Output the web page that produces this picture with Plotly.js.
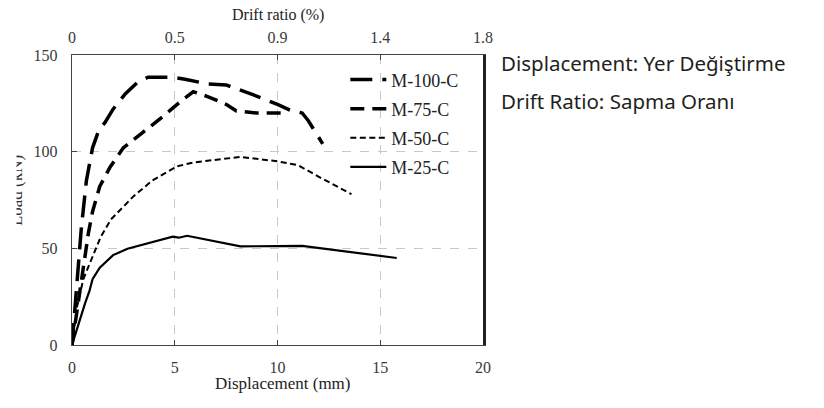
<!DOCTYPE html>
<html>
<head>
<meta charset="utf-8">
<script src="https://cdn.plot.ly/plotly-3.0.1.min.js"></script>
<style>html,body{margin:0;padding:0;background:#fff;}#chart{width:824px;height:408px;}</style>
</head>
<body>
<div id="chart"></div>
<script>
// Displacement (mm) / Load (kN)
const m100_x = [0, 0.15, 0.3, 0.45, 0.7, 1.0, 1.3, 1.6, 2.0, 2.6, 3.2, 3.7, 4.9, 5.5, 6.6, 7.5, 8.8, 10.0, 10.6, 11.2, 11.5, 12.2];
const m100_y = [0, 20, 40, 60, 85, 102, 111, 115, 122, 130, 136, 138.5, 138.5, 137.5, 135, 134.5, 129.5, 124.5, 121.5, 120, 116, 104];
const m75_x = [0, 0.2, 0.4, 0.6, 0.8, 1.0, 1.35, 1.85, 2.5, 3.45, 4.4, 5.4, 5.9, 6.6, 7.5, 8.0, 9.0, 10.5];
const m75_y = [0, 15, 30, 45, 58, 69, 82, 92, 102, 110, 118, 127, 131, 128.5, 124.5, 121, 120, 120];
const m50_x = [0, 0.25, 0.55, 1.0, 1.4, 1.9, 3.0, 3.9, 5.1, 5.9, 8.2, 10.0, 11.0, 12.1, 13.6];
const m50_y = [0, 20, 34, 46, 56, 65, 77, 85, 92.4, 94.4, 97.3, 95, 93, 86.5, 78];
const m25_x = [0, 0.2, 0.4, 0.65, 0.85, 1.0, 1.35, 2.0, 2.7, 4.9, 5.2, 5.6, 8.2, 11.2, 15.8];
const m25_y = [0, 7, 13, 22, 28, 34, 40, 46.5, 49.8, 56, 55.5, 56.5, 51, 51.3, 45];

const seriesNames = ['M-100-C', 'M-75-C', 'M-50-C', 'M-25-C'];
const dispTicks = [0, 5, 10, 15, 20];
const driftTickLabels = ['0', '0.5', '0.9', '1.4', '1.8'];
const loadTicks = [0, 50, 100, 150];

const serif = 'Liberation Serif';
const tickFont = {family: serif, size: 16, color: '#3a3a3a'};

const traces = [
  {x: m100_x, y: m100_y, name: seriesNames[0], legendgroup: 'a', mode: 'lines', line: {color: '#000', width: 3.5, dash: '22px,10px'}},
  {x: m75_x, y: m75_y, name: seriesNames[1], legendgroup: 'b', mode: 'lines', line: {color: '#000', width: 3.5, dash: '14px,8px'}},
  {x: m50_x, y: m50_y, name: seriesNames[2], legendgroup: 'c', mode: 'lines', line: {color: '#000', width: 2, dash: '6px,3.5px'}},
  {x: m25_x, y: m25_y, name: seriesNames[3], legendgroup: 'd', mode: 'lines', line: {color: '#000', width: 2.2}},
  {x: dispTicks, y: dispTicks.map(() => null), xaxis: 'x2', mode: 'lines', showlegend: false, hoverinfo: 'skip'},
  {x: [null], y: loadTicks, yaxis: 'y2', mode: 'lines', showlegend: false, hoverinfo: 'skip'}
];

const layout = {
  width: 824, height: 408,
  margin: {l: 72, r: 341, t: 55, b: 63},
  paper_bgcolor: '#fff', plot_bgcolor: '#fff',
  showlegend: true,
  legend: {
    x: 0.665, y: 0.978, xanchor: 'left', yanchor: 'top',
    bgcolor: 'rgba(0,0,0,0)', borderwidth: 0, itemwidth: 36,
    font: {family: serif, size: 18, color: '#222'},
    traceorder: 'grouped', tracegroupgap: 2.7
  },
  xaxis: {
    range: [0, 20], tickvals: dispTicks, ticktext: dispTicks.map(String),
    ticks: 'inside', ticklen: 5, tickcolor: '#444', ticklabelstandoff: 7,
    showline: true, linecolor: '#444', linewidth: 1.3,
    showgrid: true, gridcolor: '#c8c8c8', griddash: 'dash', gridwidth: 1,
    zeroline: false, tickfont: tickFont
  },
  xaxis2: {
    overlaying: 'x', side: 'top', anchor: 'y', range: [0, 20],
    tickvals: dispTicks, ticktext: driftTickLabels,
    ticks: 'inside', ticklen: 5, tickcolor: '#444', ticklabelstandoff: 4,
    showline: true, linecolor: '#444', linewidth: 1.3,
    showgrid: false, zeroline: false, tickfont: tickFont
  },
  yaxis: {
    range: [0, 150], tickvals: loadTicks,
    ticks: 'inside', ticklen: 5, tickcolor: '#444', ticklabelstandoff: 10,
    showline: true, linecolor: '#444', linewidth: 1.3,
    showgrid: true, gridcolor: '#c8c8c8', griddash: 'dash', gridwidth: 1,
    zeroline: false, tickfont: tickFont
  },
  yaxis2: {
    overlaying: 'y', side: 'right', anchor: 'x', range: [0, 150], tickvals: loadTicks,
    ticks: '', showticklabels: false,
    showline: true, linecolor: '#222', linewidth: 2.5,
    showgrid: false, zeroline: false
  },
  annotations: [
    {xref: 'paper', yref: 'paper', x: -0.136, y: 0.531, xanchor: 'center', yanchor: 'middle', textangle: -90,
     text: 'Load (kN)', showarrow: false, font: {family: serif, size: 17, color: '#333'}},
    {xref: 'paper', yref: 'paper', x: 0, y: 0.531, xshift: -72, xanchor: 'left', yanchor: 'middle',
     text: '&nbsp;', showarrow: false, bgcolor: '#fff', width: 15, height: 110, borderpad: 0},
    {xref: 'paper', yref: 'paper', x: 0.513, y: 0, yshift: -38, xanchor: 'center', yanchor: 'middle',
     text: 'Displacement (mm)', showarrow: false, font: {family: serif, size: 17, color: '#222'}},
    {xref: 'paper', yref: 'paper', x: 0.502, y: 1, yshift: 40, xanchor: 'center', yanchor: 'middle',
     text: 'Drift ratio (%)', showarrow: false, font: {family: serif, size: 16, color: '#222'}},
    {xref: 'paper', yref: 'paper', x: 1.04, y: 0.972, xanchor: 'left', yanchor: 'middle',
     text: 'Displacement: Yer Değiştirme', showarrow: false, font: {family: 'Noto Sans, sans-serif', size: 20.5, color: '#231f20'}},
    {xref: 'paper', yref: 'paper', x: 1.04, y: 0.841, xanchor: 'left', yanchor: 'middle',
     text: 'Drift Ratio: Sapma Oranı', showarrow: false, font: {family: 'Noto Sans, sans-serif', size: 20.5, color: '#231f20'}}
  ]
};

Plotly.newPlot('chart', traces, layout, {displayModeBar: false, staticPlot: true});
</script>
</body>
</html>
